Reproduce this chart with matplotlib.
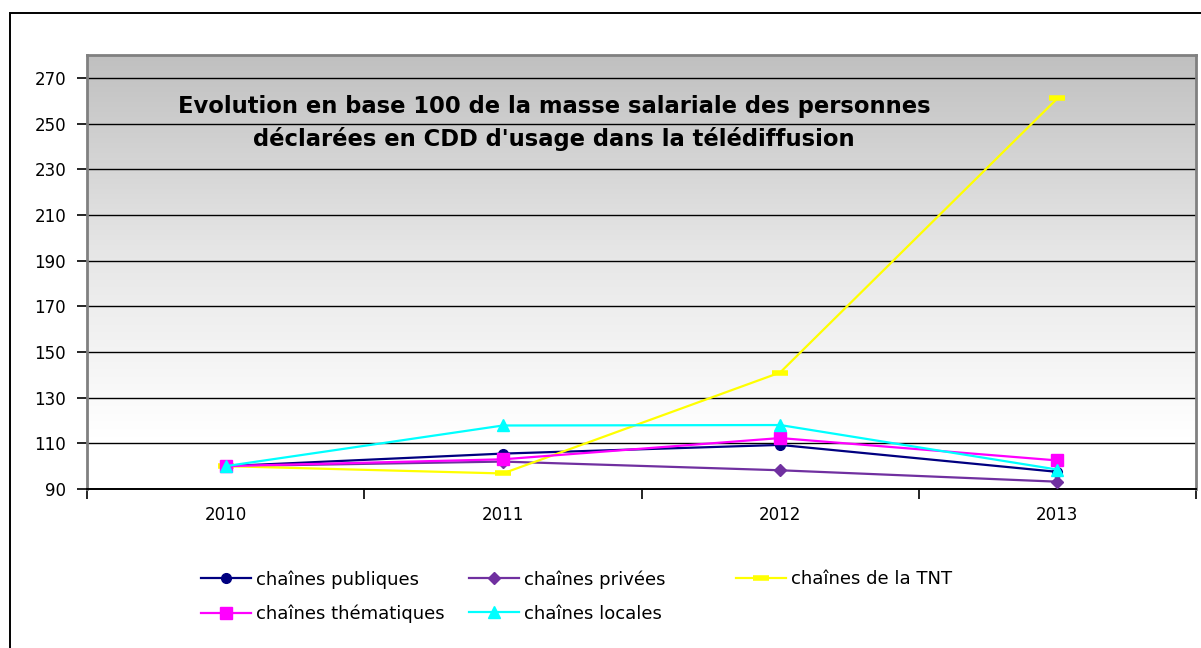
# -*- coding: utf-8 -*-
"""Evolution en base 100 de la masse salariale - CDD d'usage, télédiffusion."""

import numpy as np
import matplotlib
matplotlib.use("Agg")
import matplotlib.pyplot as plt
from matplotlib.patches import Rectangle

# ---- data ----
years = ["2010", "2011", "2012", "2013"]
publiques = [100.0, 105.5, 109.3, 97.5]
privees = [100.0, 102.0, 98.2, 93.2]
tnt = [100.0, 96.8, 141.0, 261.0]
thematiques = [100.0, 103.0, 112.3, 102.5]
locales = [100.0, 117.8, 118.0, 98.5]
y_ticks = list(range(90, 271, 20))

title = ("Evolution en base 100 de la masse salariale des personnes\n"
         "déclarées en CDD d'usage dans la télédiffusion")

W, H = 1201, 648
fig = plt.figure(figsize=(W / 100, H / 100), dpi=100)

# outer chart frame (runs off right/bottom edge like the source)
fig.patches.append(Rectangle((10 / W, -0.05), 1.2, 1 - 13 / H + 0.05,
                             transform=fig.transFigure, fill=False,
                             edgecolor="black", linewidth=1.4, zorder=0))

left, right, top, bottom = 87, 1196, 55, 489
ax = fig.add_axes([left / W, 1 - bottom / H, (right - left) / W,
                   (bottom - top) / H])
ax.set_facecolor("white")

# vertical gradient: grey at top to white near the bottom
grad = np.linspace(0, 1, 256).reshape(-1, 1)
cmap = matplotlib.colors.LinearSegmentedColormap.from_list(
    "bg", [(0.0, "#ffffff"), (0.12, "#ffffff"), (0.55, "#e6e6e6"),
           (1.0, "#c0c0c0")], N=256)
ax.imshow(grad, aspect="auto", cmap=cmap, origin="lower",
          extent=[0, 1, 0, 1], transform=ax.transAxes, zorder=0)

x = np.arange(len(years))
ax.plot(x, publiques, color="#000080", lw=1.6, marker="o", ms=7,
        label="chaînes publiques", zorder=4)
ax.plot(x, privees, color="#7030a0", lw=1.6, marker="D", ms=6,
        label="chaînes privées", zorder=4)
ax.plot(x, tnt, color="#ffff00", lw=1.6, marker="_", ms=11, mew=4,
        label="chaînes de la TNT", zorder=4)
ax.plot(x, thematiques, color="#ff00ff", lw=1.6, marker="s", ms=9,
        label="chaînes thématiques", zorder=5)
ax.plot(x, locales, color="#00ffff", lw=1.6, marker="^", ms=9,
        label="chaînes locales", zorder=6)

ax.set_xlim(-0.5, len(years) - 0.5)
ax.set_ylim(90, 280)
ax.set_yticks(y_ticks)
for t in y_ticks:
    ax.axhline(t, color="black", lw=1.0, zorder=1)

ax.set_xticks(x)
ax.set_xticklabels(years)
ax.set_xticks(np.arange(-0.5, len(years) + 0.5, 1.0), minor=True)
ax.tick_params(axis="x", which="major", length=0, pad=12, labelsize=12)
ax.tick_params(axis="x", which="minor", length=7, width=1.2)
ax.tick_params(axis="y", length=7, width=1.2, labelsize=12, pad=8)

ax.spines["bottom"].set_color("black")
ax.spines["bottom"].set_linewidth(1.4)
for side in ("top", "right", "left"):
    ax.spines[side].set_color("#808080")
    ax.spines[side].set_linewidth(2.0)

ax.text(0.421, 0.843, title, transform=ax.transAxes, ha="center",
        va="center", fontsize=16.3, fontweight="bold", linespacing=1.45,
        zorder=7)

# legend, three columns laid out row-wise like the source
handles, labels = ax.get_legend_handles_labels()
cols = [[0, 3], [1, 4], [2]]
col_x = [192, 460, 727]
for cx, idx in zip(col_x, cols):
    fig.legend([handles[i] for i in idx], [labels[i] for i in idx],
               loc="upper left", bbox_to_anchor=(cx / W, 1 - 561 / H),
               frameon=False, fontsize=13, handlelength=2.75,
               handletextpad=0.3, labelspacing=0.9, borderpad=0)

fig.savefig("out.png", dpi=100)
